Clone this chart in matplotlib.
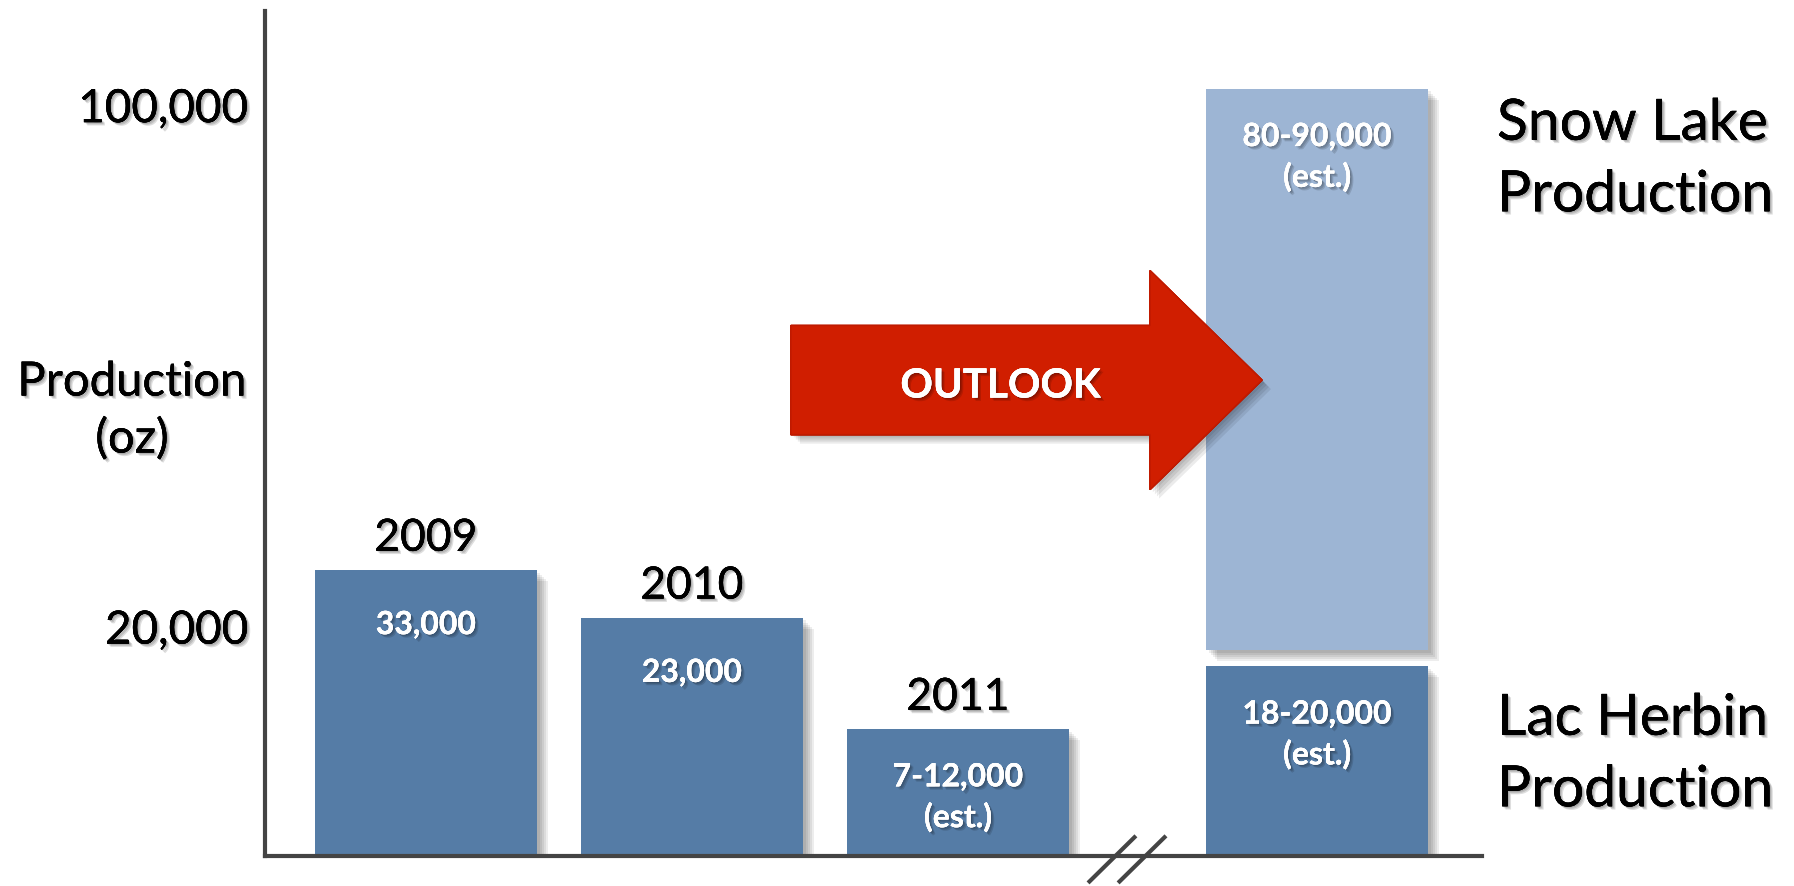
import matplotlib.pyplot as plt
import matplotlib.patheffects as pe
from matplotlib.patches import FancyArrow

# --- data (chart is schematic: heights, 100 = the 100,000 gridline) ---
years = ['2009', '2010', '2011']
hist_heights = [38.3, 31.9, 17.0]
hist_labels = ['33,000', '23,000', '7-12,000\n(est.)']

lac_height = 25.4
lac_label = '18-20,000\n(est.)'
snow_bottom = 27.6
snow_height = 75.1
snow_label = '80-90,000\n(est.)'

tick_pos = [30.7, 100.5]
tick_labels = ['20,000', '100,000']

# --- style ---
BLUE = '#557ca6'
LIGHT = '#9db5d4'
RED = '#d01e00'
AXIS = '#444444'
FONT = 'Lato'


def soft_shadow(steps, alpha):
    # a few faint offset copies give a blurred-looking drop shadow
    fx = [pe.withSimplePatchShadow(offset=(d, -d), shadow_rgbFace='black', alpha=alpha) for d in steps]
    return fx + [pe.Normal()]


bar_shadow = soft_shadow([2, 3.5, 5, 6.5, 8], 0.07)
txt_shadow = soft_shadow([0.8, 1.6, 2.4], 0.13)

fig = plt.figure(figsize=(17.94, 8.86), dpi=100)
ax = fig.add_axes([265 / 1794, 30 / 886, 1217 / 1794, 845 / 886])
ax.set_xlim(-0.605, 3.97)
ax.set_ylim(0, 113.1)

x_hist = [0, 1, 2]
x_out = 3.35
w = 0.835

bars = ax.bar(x_hist, hist_heights, width=w, color=BLUE, zorder=2)
lac = ax.bar([x_out], [lac_height], width=w, color=BLUE, zorder=2)
snow = ax.bar([x_out], [snow_height], bottom=snow_bottom, width=w, color=LIGHT, zorder=2)
for b in list(bars) + list(lac) + list(snow):
    b.set_path_effects(bar_shadow)

# year labels above bars
for x, h, y in zip(x_hist, hist_heights, years):
    ax.annotate(y, (x, h), xytext=(0, 8), textcoords='offset points', ha='center', va='bottom',
                fontsize=32, family=FONT, color='black', path_effects=txt_shadow)


# value labels inside bars
def inner(x, top, s):
    off = -24 if '\n' in s else -29
    ax.annotate(s, (x, top), xytext=(0, off), textcoords='offset points', ha='center', va='top',
                fontsize=23, family=FONT, fontweight='bold', color='white', linespacing=1.4,
                path_effects=txt_shadow, zorder=5)


for x, h, s in zip(x_hist, hist_heights, hist_labels):
    inner(x, h, s)
inner(x_out, lac_height, lac_label)
inner(x_out, snow_bottom + snow_height, snow_label)

# outlook arrow
arrow = FancyArrow(1.372, 63.7, 1.771, 0, width=14.6, head_width=29.3, head_length=0.421,
                   length_includes_head=True, facecolor=RED, edgecolor='#c01a00', lw=1, zorder=4)
arrow.set_path_effects(soft_shadow([2, 3.5, 5, 6.5], 0.08))
ax.add_patch(arrow)
ax.text(2.16, 62.9, 'OUTLOOK', ha='center', va='center', fontsize=29, family=FONT,
        fontweight='bold', color='white', path_effects=txt_shadow, zorder=6)

# axis break marks
for dx in (0, 0.113):
    ax.plot([2.489 + dx, 2.669 + dx], [-3.6, 2.7], color=AXIS, lw=3, clip_on=False, zorder=6,
            solid_capstyle='butt')

# axes
for s in ('top', 'right'):
    ax.spines[s].set_visible(False)
for s in ('left', 'bottom'):
    ax.spines[s].set_color(AXIS)
    ax.spines[s].set_linewidth(3)
ax.set_xticks([])
ax.set_yticks(tick_pos)
ax.set_yticklabels(tick_labels, fontsize=33, family=FONT, path_effects=txt_shadow)
ax.tick_params(axis='y', length=0, pad=12)

fig.text(132 / 1794, 1 - 411 / 886, 'Production\n(oz)', ha='center', va='center', fontsize=34,
         family=FONT, linespacing=1.4, path_effects=txt_shadow)
fig.text(1497 / 1794, 1 - 160 / 886, 'Snow Lake\nProduction', ha='left', va='center', fontsize=41,
         family=FONT, linespacing=1.5, path_effects=txt_shadow)
fig.text(1497 / 1794, 1 - 755 / 886, 'Lac Herbin\nProduction', ha='left', va='center', fontsize=41,
         family=FONT, linespacing=1.5, path_effects=txt_shadow)

fig.savefig('out.png', dpi=100)
